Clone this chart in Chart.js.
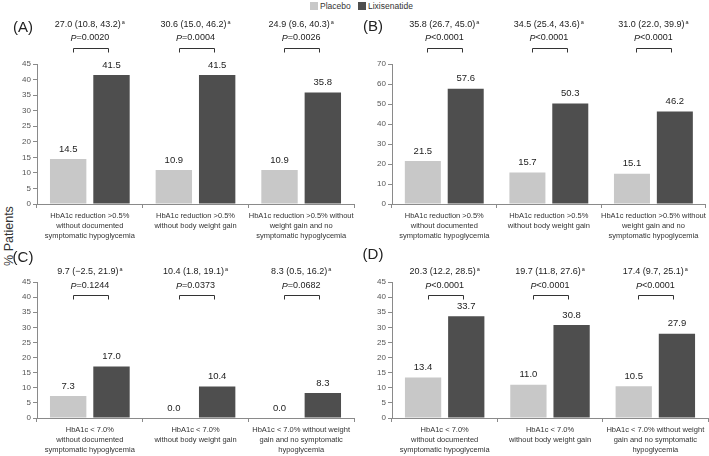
<!DOCTYPE html>
<html><head><meta charset="utf-8">
<script src="https://cdn.jsdelivr.net/npm/chart.js@4.4.1/dist/chart.umd.min.js"></script>
<style>
body{margin:0;background:#fff;width:709px;height:456px;position:relative;overflow:hidden;font-family:Arial,"Liberation Sans",sans-serif;}
canvas{position:absolute;}
.leg{position:absolute;top:1px;font-size:8.5px;color:#333;display:flex;align-items:center;white-space:nowrap;}
.sw{width:8px;height:8px;display:inline-block;margin-right:2px;}
#ytitle{position:absolute;left:-22px;top:229px;width:62px;text-align:center;font-size:12.5px;color:#333;transform:rotate(-90deg);white-space:nowrap;}
</style></head><body>
<div class="leg" style="left:310px"><span class="sw" style="background:#c8c8c8"></span>Placebo</div>
<div class="leg" style="left:358px"><span class="sw" style="background:#4e4e4e"></span>Lixisenatide</div>
<div id="ytitle">% Patients</div>
<canvas id="cA" width="360" height="245" style="left:0;top:0"></canvas>
<canvas id="cB" width="354" height="245" style="left:355px;top:0"></canvas>
<canvas id="cC" width="360" height="211" style="left:0;top:245px"></canvas>
<canvas id="cD" width="354" height="211" style="left:355px;top:245px"></canvas>
<script>
// ---- data ----
const seriesNames = ["Placebo", "Lixisenatide"];
const categoriesAB = [
  ["HbA1c reduction >0.5%", "without documented", "symptomatic hypoglycemia"],
  ["HbA1c reduction >0.5%", "without body weight gain"],
  ["HbA1c reduction >0.5% without", "weight gain and no", "symptomatic hypoglycemia"]
];
const categoriesCD = [
  ["HbA1c < 7.0%", "without documented", "symptomatic hypoglycemia"],
  ["HbA1c < 7.0%", "without body weight gain"],
  ["HbA1c < 7.0% without weight", "gain and no symptomatic", "hypoglycemia"]
];
const placeboA = [14.5, 10.9, 10.9];
const lixA = [41.5, 41.5, 35.8];
const placeboB = [21.5, 15.7, 15.1];
const lixB = [57.6, 50.3, 46.2];
const placeboC = [7.3, 0.0, 0.0];
const lixC = [17.0, 10.4, 8.3];
const placeboD = [13.4, 11.0, 10.5];
const lixD = [33.7, 30.8, 27.9];
const diffA = ["27.0 (10.8, 43.2)", "30.6 (15.0, 46.2)", "24.9 (9.6, 40.3)"];
const pA = ["=0.0020", "=0.0004", "=0.0026"];
const diffB = ["35.8 (26.7, 45.0)", "34.5 (25.4, 43.6)", "31.0 (22.0, 39.9)"];
const pB = ["<0.0001", "<0.0001", "<0.0001"];
const diffC = ["9.7 (\u22122.5, 21.9)", "10.4 (1.8, 19.1)", "8.3 (0.5, 16.2)"];
const pC = ["=0.1244", "=0.0373", "=0.0682"];
const diffD = ["20.3 (12.2, 28.5)", "19.7 (11.8, 27.6)", "17.4 (9.7, 25.1)"];
const pD = ["<0.0001", "<0.0001", "<0.0001"];
const yMaxA = 45, yMaxB = 70, yMaxC = 45, yMaxD = 45;
const yStepA = 5, yStepB = 10, yStepC = 5, yStepD = 5;

// ---- drawing ----
const FONT = 'Arial, "Liberation Sans", sans-serif';
const PLAC = '#c8c8c8', LIX = '#4e4e4e', AXIS = '#8a8a8a', TXT = '#222';

function makeChart(id, label, cats, plac, lix, diffs, ps, yMax, yStep, cfg) {
  const annot = {
    id: 'annot' + id,
    afterDatasetsDraw(chart) {
      const { ctx, chartArea, scales } = chart;
      const x = scales.x;
      ctx.save();
      ctx.fillStyle = TXT;
      // value labels
      chart.data.datasets.forEach((ds, di) => {
        chart.getDatasetMeta(di).data.forEach((bar, i) => {
          ctx.font = '9.5px ' + FONT;
          ctx.textAlign = 'center';
          ctx.textBaseline = 'middle';
          ctx.fillText(ds.data[i].toFixed(1), bar.x, bar.y - 10);
        });
      });
      // panel label
      ctx.font = '15px ' + FONT;
      ctx.textAlign = 'center';
      ctx.textBaseline = 'middle';
      ctx.fillText(label, cfg.labX, cfg.labY);
      // headers, p-values, brackets
      diffs.forEach((d, i) => {
        const cx = x.getPixelForValue(i);
        ctx.font = '9px ' + FONT;
        const w1 = ctx.measureText(d).width;
        ctx.font = '5.5px ' + FONT;
        const w2 = ctx.measureText('a').width + 1;
        const sx = cx - (w1 + w2) / 2;
        ctx.textAlign = 'left';
        ctx.textBaseline = 'middle';
        ctx.font = '9px ' + FONT;
        const hy = chartArea.top + cfg.hdr;
        ctx.fillText(d, sx, hy);
        ctx.font = '5.5px ' + FONT;
        ctx.fillText('a', sx + w1 + 1, hy - 3);
        ctx.font = 'italic 9px ' + FONT;
        const wp = ctx.measureText('P').width;
        ctx.font = '9px ' + FONT;
        const wr = ctx.measureText(ps[i]).width;
        const px = cx - (wp + wr) / 2;
        const py = chartArea.top + cfg.pv;
        ctx.font = 'italic 9px ' + FONT;
        ctx.fillText('P', px, py);
        ctx.font = '9px ' + FONT;
        ctx.fillText(ps[i], px + wp, py);
        const by = Math.round(chartArea.top + cfg.br) + 0.5;
        ctx.strokeStyle = '#333';
        ctx.lineWidth = 1;
        ctx.beginPath();
        ctx.moveTo(Math.round(cx - 17) + 0.5, by + 4);
        ctx.lineTo(Math.round(cx - 17) + 0.5, by);
        ctx.lineTo(Math.round(cx + 18) + 0.5, by);
        ctx.lineTo(Math.round(cx + 18) + 0.5, by + 4);
        ctx.stroke();
      });
      ctx.restore();
    }
  };
  return new Chart(document.getElementById(id), {
    type: 'bar',
    data: {
      labels: cats,
      datasets: [
        { label: seriesNames[0], data: plac, backgroundColor: PLAC, borderWidth: 0, barPercentage: 0.84, categoryPercentage: 0.82 },
        { label: seriesNames[1], data: lix, backgroundColor: LIX, borderWidth: 0, barPercentage: 0.84, categoryPercentage: 0.82 }
      ]
    },
    options: {
      responsive: false,
      devicePixelRatio: 1,
      animation: false,
      events: [],
      layout: { padding: { top: cfg.top, right: cfg.right, left: 0, bottom: 0 } },
      plugins: { legend: { display: false }, tooltip: { enabled: false } },
      scales: {
        x: {
          ticks: { font: { size: 7.5, family: FONT, lineHeight: 1.33 }, color: '#333', padding: 3, maxRotation: 0, autoSkip: false },
          grid: { drawOnChartArea: false, drawTicks: true, tickLength: 4, color: AXIS, offset: true },
          border: { color: AXIS },
          afterFit(s) { s.height = cfg.xh; }
        },
        y: {
          min: 0, max: yMax,
          ticks: { stepSize: yStep, font: { size: 8, family: FONT }, color: '#555', padding: 2 },
          grid: { drawOnChartArea: false, drawTicks: true, tickLength: 4, color: AXIS },
          border: { color: AXIS },
          afterFit(s) { s.width = 37; }
        }
      }
    },
    plugins: [annot]
  });
}

const topCfgL = { top: 64, right: 6, xh: 41, hdr: -39, pv: -26, br: -16, labX: 23, labY: 28 };
const topCfgR = { top: 64, right: 1, xh: 41, hdr: -39, pv: -26, br: -16, labX: 18, labY: 27 };
const botCfgL = { top: 37, right: 6, xh: 38, hdr: -10, pv: 4, br: 13, labX: 23, labY: 13 };
const botCfgR = { top: 37, right: 1, xh: 38, hdr: -10, pv: 4, br: 13, labX: 18, labY: 10 };

makeChart('cA', '(A)', categoriesAB, placeboA, lixA, diffA, pA, yMaxA, yStepA, topCfgL);
makeChart('cB', '(B)', categoriesAB, placeboB, lixB, diffB, pB, yMaxB, yStepB, topCfgR);
makeChart('cC', '(C)', categoriesCD, placeboC, lixC, diffC, pC, yMaxC, yStepC, botCfgL);
makeChart('cD', '(D)', categoriesCD, placeboD, lixD, diffD, pD, yMaxD, yStepD, botCfgR);
</script>
</body></html>
